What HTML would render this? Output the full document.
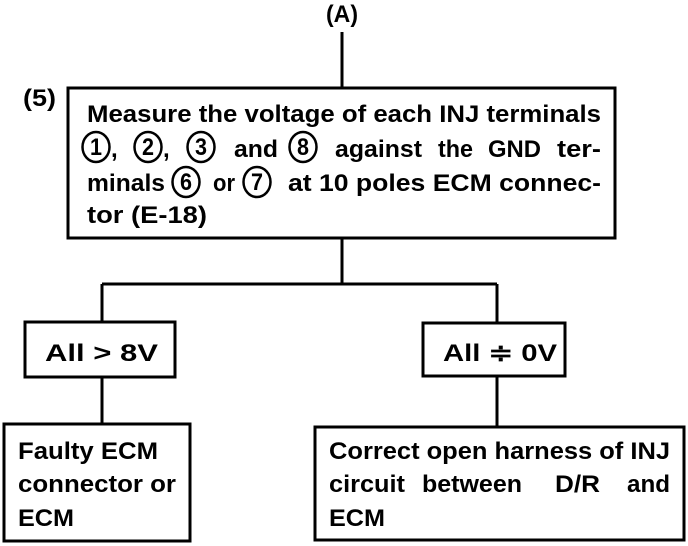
<!DOCTYPE html>
<html><head><meta charset="utf-8"><style>
html,body{margin:0;padding:0;background:#fff;width:688px;height:546px;overflow:hidden}
svg{display:block}
text{font-family:"Liberation Sans",sans-serif;font-weight:bold;fill:#000;font-size:24px}
</style></head><body>
<svg width="688" height="546" viewBox="0 0 688 546" xmlns="http://www.w3.org/2000/svg">
<g stroke="#000" stroke-width="3" fill="none">
<line x1="342" y1="32" x2="342" y2="88"/>
<rect x="68" y="88" width="547" height="150"/>
<line x1="342" y1="238" x2="342" y2="284"/>
<line x1="102" y1="284" x2="497" y2="284"/>
<line x1="102" y1="284" x2="102" y2="322"/>
<line x1="497" y1="284" x2="497" y2="322"/>
<rect x="25" y="322" width="150" height="55"/>
<rect x="423" y="323" width="142" height="53"/>
<line x1="102" y1="377" x2="102" y2="424"/>
<line x1="497" y1="376" x2="497" y2="426"/>
<rect x="4" y="424" width="186" height="117"/>
<rect x="315" y="427" width="369" height="113"/>
<g stroke-width="2.5">
<ellipse cx="96" cy="147" rx="13.5" ry="15"/>
<ellipse cx="148" cy="147" rx="13.5" ry="15"/>
<ellipse cx="201" cy="147" rx="13.5" ry="15"/>
<ellipse cx="303" cy="147" rx="13.5" ry="15"/>
<ellipse cx="186" cy="182" rx="13.5" ry="15"/>
<ellipse cx="257" cy="182" rx="13.5" ry="15"/>
</g>
</g>
<text x="326" y="22" textLength="32" lengthAdjust="spacingAndGlyphs">(A)</text>
<text x="23" y="106" textLength="33" lengthAdjust="spacingAndGlyphs">(5)</text>
<text x="87" y="122" textLength="514" lengthAdjust="spacingAndGlyphs">Measure the voltage of each INJ terminals</text>
<g text-anchor="middle" style="font-size:22px">
<text x="96" y="155" textLength="12" lengthAdjust="spacingAndGlyphs">1</text><text x="148" y="155" textLength="12" lengthAdjust="spacingAndGlyphs">2</text><text x="201" y="155" textLength="12" lengthAdjust="spacingAndGlyphs">3</text><text x="303" y="155" textLength="12" lengthAdjust="spacingAndGlyphs">8</text>
<text x="186" y="190" textLength="12" lengthAdjust="spacingAndGlyphs">6</text><text x="257" y="190" textLength="12" lengthAdjust="spacingAndGlyphs">7</text>
</g>
<text x="111" y="157">,</text><text x="163" y="157">,</text>
<text x="234" y="157" textLength="44" lengthAdjust="spacingAndGlyphs">and</text>
<text x="335" y="157" textLength="87" lengthAdjust="spacingAndGlyphs">against</text>
<text x="438" y="157" textLength="35" lengthAdjust="spacingAndGlyphs">the</text>
<text x="488" y="157" textLength="53" lengthAdjust="spacingAndGlyphs">GND</text>
<text x="557" y="157" textLength="44" lengthAdjust="spacingAndGlyphs">ter-</text>
<text x="87" y="191" textLength="78" lengthAdjust="spacingAndGlyphs">minals</text>
<text x="213" y="191" textLength="22" lengthAdjust="spacingAndGlyphs">or</text>
<text x="288" y="191" textLength="313" lengthAdjust="spacingAndGlyphs">at 10 poles ECM connec-</text>
<text x="87" y="223" textLength="120" lengthAdjust="spacingAndGlyphs">tor (E-18)</text>
<text x="45" y="361" textLength="113" lengthAdjust="spacingAndGlyphs">All &gt; 8V</text>
<text x="443" y="361" textLength="114" lengthAdjust="spacingAndGlyphs">All ≑ 0V</text>
<text x="18" y="459" textLength="140" lengthAdjust="spacingAndGlyphs">Faulty ECM</text>
<text x="18" y="492" textLength="158" lengthAdjust="spacingAndGlyphs">connector or</text>
<text x="18" y="526" textLength="56" lengthAdjust="spacingAndGlyphs">ECM</text>
<text x="329" y="459" textLength="341" lengthAdjust="spacingAndGlyphs">Correct open harness of INJ</text>
<text x="329" y="492" textLength="76" lengthAdjust="spacingAndGlyphs">circuit</text>
<text x="422" y="492" textLength="100" lengthAdjust="spacingAndGlyphs">between</text>
<text x="555" y="492" textLength="45" lengthAdjust="spacingAndGlyphs">D/R</text>
<text x="627" y="492" textLength="43" lengthAdjust="spacingAndGlyphs">and</text>
<text x="329" y="526" textLength="56" lengthAdjust="spacingAndGlyphs">ECM</text>
</svg>
</body></html>
